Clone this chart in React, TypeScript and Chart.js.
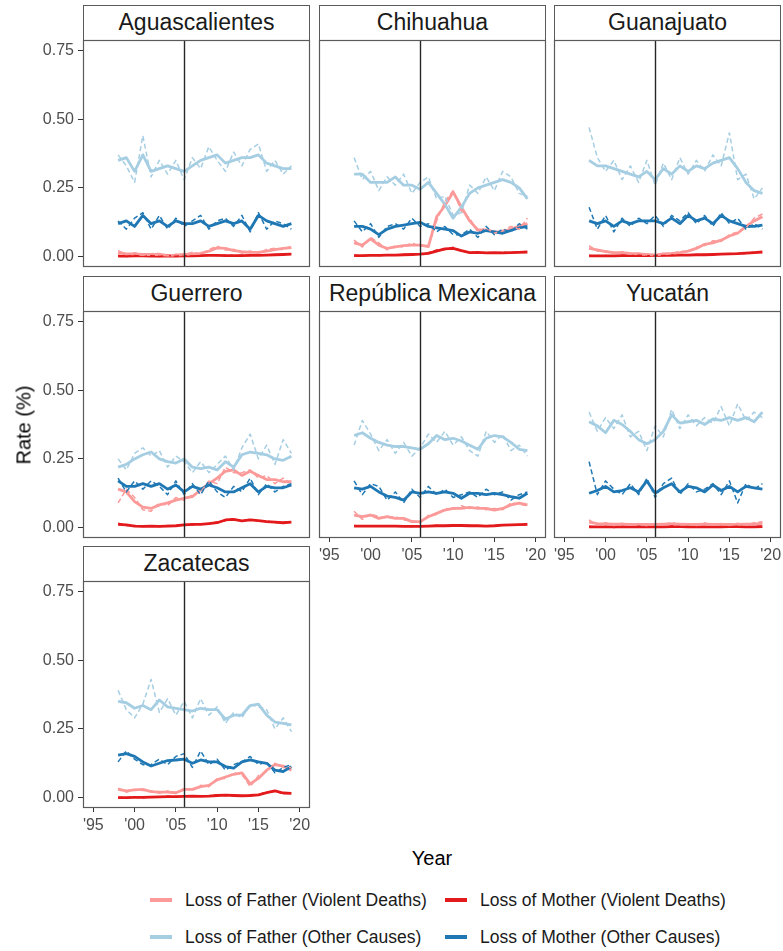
import React, { useEffect, useRef } from "react";
import { Chart, registerables } from "chart.js";

Chart.register(...registerables);

// ---------------- DATA ----------------
const years = [1998, 1999, 2000, 2001, 2002, 2003, 2004, 2005, 2006, 2007, 2008, 2009, 2010, 2011, 2012, 2013, 2014, 2015, 2016, 2017, 2018, 2019];
const xTickValues = [1995, 2000, 2005, 2010, 2015, 2020];
const xTickLabels = ["'95", "'00", "'05", "'10", "'15", "'20"];
const yTickValues = [0, 0.25, 0.5, 0.75];
const yTickLabels = ["0.00", "0.25", "0.50", "0.75"];
const policyYear = 2006;

const seriesNames = [
  "Loss of Father (Violent Deaths)",
  "Loss of Mother (Violent Deaths)",
  "Loss of Father (Other Causes)",
  "Loss of Mother (Other Causes)",
];

// Aguascalientes
const agsFV = [0.015, 0.01, 0.01, 0.008, 0.008, 0.008, 0.005, 0.006, 0.008, 0.01, 0.012, 0.02, 0.032, 0.03, 0.022, 0.018, 0.016, 0.016, 0.02, 0.026, 0.03, 0.033];
const agsFVRaw = [0.022, 0.008, 0.014, 0.005, 0.011, 0.012, 0.003, 0.009, 0.006, 0.016, 0.008, 0.026, 0.038, 0.024, 0.027, 0.013, 0.021, 0.012, 0.026, 0.031, 0.025, 0.039];
const agsMV = [0.002, 0.002, 0.003, 0.003, 0.002, 0.002, 0.003, 0.002, 0.003, 0.003, 0.004, 0.005, 0.005, 0.004, 0.004, 0.004, 0.005, 0.005, 0.006, 0.007, 0.008, 0.009];
const agsMVRaw = [0.004, 0.001, 0.004, 0.002, 0.003, 0.001, 0.004, 0.002, 0.004, 0.002, 0.005, 0.006, 0.004, 0.005, 0.003, 0.005, 0.004, 0.006, 0.007, 0.006, 0.009, 0.01];
const agsFO = [0.35, 0.36, 0.31, 0.37, 0.31, 0.32, 0.33, 0.32, 0.31, 0.33, 0.35, 0.36, 0.37, 0.34, 0.35, 0.36, 0.36, 0.37, 0.34, 0.33, 0.32, 0.32];
const agsFORaw = [0.37, 0.33, 0.27, 0.44, 0.29, 0.35, 0.3, 0.35, 0.28, 0.36, 0.32, 0.4, 0.35, 0.31, 0.38, 0.33, 0.39, 0.41, 0.31, 0.35, 0.3, 0.33];
const agsMO = [0.12, 0.13, 0.11, 0.15, 0.12, 0.13, 0.11, 0.13, 0.12, 0.12, 0.13, 0.11, 0.12, 0.13, 0.12, 0.13, 0.1, 0.15, 0.13, 0.12, 0.11, 0.12];
const agsMORaw = [0.13, 0.1, 0.14, 0.16, 0.1, 0.15, 0.1, 0.14, 0.11, 0.13, 0.15, 0.1, 0.13, 0.14, 0.11, 0.15, 0.09, 0.16, 0.1, 0.13, 0.12, 0.1];

// Chihuahua
const chhFV = [0.05, 0.042, 0.065, 0.042, 0.03, 0.036, 0.04, 0.042, 0.042, 0.037, 0.145, 0.185, 0.235, 0.18, 0.13, 0.097, 0.097, 0.09, 0.09, 0.1, 0.11, 0.12];
const chhFVRaw = [0.06, 0.035, 0.07, 0.05, 0.025, 0.04, 0.035, 0.05, 0.038, 0.04, 0.13, 0.2, 0.24, 0.165, 0.14, 0.09, 0.105, 0.085, 0.095, 0.11, 0.1, 0.14];
const chhMV = [0.004, 0.004, 0.005, 0.005, 0.006, 0.006, 0.007, 0.008, 0.009, 0.012, 0.02, 0.028, 0.03, 0.022, 0.015, 0.016, 0.014, 0.015, 0.014, 0.015, 0.016, 0.017];
const chhMVRaw = [0.005, 0.003, 0.006, 0.004, 0.007, 0.005, 0.008, 0.007, 0.01, 0.014, 0.024, 0.026, 0.034, 0.02, 0.017, 0.013, 0.016, 0.013, 0.016, 0.014, 0.018, 0.016];
const chhFO = [0.3, 0.3, 0.27, 0.27, 0.27, 0.29, 0.26, 0.26, 0.245, 0.27, 0.23, 0.19, 0.14, 0.18, 0.23, 0.25, 0.26, 0.27, 0.28, 0.27, 0.25, 0.21];
const chhFORaw = [0.36, 0.28, 0.31, 0.24, 0.29, 0.26, 0.3, 0.23, 0.27, 0.29, 0.21, 0.22, 0.15, 0.16, 0.26, 0.23, 0.29, 0.24, 0.31, 0.29, 0.23, 0.22];
const chhMO = [0.11, 0.11, 0.1, 0.08, 0.1, 0.11, 0.115, 0.12, 0.125, 0.11, 0.105, 0.1, 0.095, 0.075, 0.09, 0.085, 0.095, 0.09, 0.085, 0.095, 0.105, 0.11];
const chhMORaw = [0.13, 0.09, 0.12, 0.07, 0.11, 0.12, 0.1, 0.14, 0.11, 0.12, 0.09, 0.11, 0.08, 0.08, 0.1, 0.07, 0.11, 0.08, 0.1, 0.09, 0.12, 0.1];

// Guanajuato
const gtoFV = [0.03, 0.025, 0.018, 0.015, 0.015, 0.012, 0.01, 0.008, 0.006, 0.01, 0.012, 0.015, 0.02, 0.03, 0.045, 0.05, 0.06, 0.075, 0.085, 0.11, 0.13, 0.145];
const gtoFVRaw = [0.04, 0.02, 0.022, 0.012, 0.018, 0.009, 0.013, 0.006, 0.008, 0.012, 0.01, 0.02, 0.018, 0.035, 0.04, 0.058, 0.055, 0.08, 0.09, 0.105, 0.14, 0.155];
const gtoMV = [0.003, 0.003, 0.003, 0.003, 0.004, 0.004, 0.004, 0.004, 0.004, 0.005, 0.005, 0.006, 0.006, 0.007, 0.007, 0.008, 0.009, 0.01, 0.011, 0.013, 0.015, 0.017];
const gtoMVRaw = [0.004, 0.002, 0.004, 0.002, 0.005, 0.003, 0.005, 0.003, 0.005, 0.004, 0.006, 0.005, 0.007, 0.006, 0.008, 0.007, 0.01, 0.009, 0.012, 0.012, 0.016, 0.018];
const gtoFO = [0.35, 0.33, 0.33, 0.32, 0.31, 0.3, 0.29, 0.31, 0.28, 0.32, 0.3, 0.33, 0.31, 0.33, 0.32, 0.34, 0.35, 0.36, 0.32, 0.27, 0.24, 0.23];
const gtoFORaw = [0.47, 0.36, 0.31, 0.35, 0.28, 0.33, 0.27, 0.35, 0.26, 0.34, 0.28, 0.36, 0.3, 0.35, 0.31, 0.37, 0.33, 0.45, 0.28, 0.3, 0.21, 0.25];
const gtoMO = [0.13, 0.12, 0.13, 0.11, 0.13, 0.12, 0.13, 0.13, 0.13, 0.12, 0.14, 0.12, 0.15, 0.13, 0.14, 0.12, 0.15, 0.13, 0.12, 0.11, 0.11, 0.115];
const gtoMORaw = [0.18, 0.1, 0.15, 0.09, 0.14, 0.11, 0.14, 0.12, 0.15, 0.11, 0.15, 0.13, 0.16, 0.12, 0.15, 0.11, 0.16, 0.12, 0.14, 0.1, 0.12, 0.1];

// Guerrero
const groFV = [0.14, 0.13, 0.095, 0.075, 0.07, 0.083, 0.09, 0.1, 0.107, 0.113, 0.137, 0.16, 0.18, 0.205, 0.21, 0.19, 0.205, 0.19, 0.175, 0.175, 0.167, 0.167];
const groFVRaw = [0.09, 0.14, 0.11, 0.065, 0.06, 0.09, 0.08, 0.11, 0.1, 0.12, 0.13, 0.17, 0.16, 0.22, 0.2, 0.2, 0.21, 0.18, 0.19, 0.16, 0.18, 0.16];
const groMV = [0.012, 0.01, 0.006, 0.005, 0.006, 0.005, 0.006, 0.007, 0.01, 0.012, 0.012, 0.015, 0.018, 0.028, 0.03, 0.025, 0.028, 0.026, 0.022, 0.02, 0.018, 0.02];
const groMVRaw = [0.016, 0.008, 0.008, 0.004, 0.007, 0.004, 0.008, 0.006, 0.012, 0.01, 0.014, 0.013, 0.021, 0.025, 0.033, 0.023, 0.031, 0.024, 0.025, 0.018, 0.02, 0.019];
const groFO = [0.22, 0.23, 0.25, 0.265, 0.275, 0.25, 0.24, 0.235, 0.25, 0.22, 0.215, 0.22, 0.21, 0.24, 0.22, 0.265, 0.275, 0.27, 0.265, 0.25, 0.245, 0.26];
const groFORaw = [0.25, 0.21, 0.27, 0.29, 0.26, 0.28, 0.22, 0.26, 0.24, 0.2, 0.24, 0.2, 0.23, 0.26, 0.21, 0.29, 0.34, 0.25, 0.3, 0.23, 0.32, 0.27];
const groMO = [0.17, 0.15, 0.15, 0.16, 0.15, 0.16, 0.14, 0.155, 0.13, 0.15, 0.14, 0.155, 0.145, 0.13, 0.13, 0.145, 0.16, 0.13, 0.15, 0.145, 0.145, 0.155];
const groMORaw = [0.18, 0.13, 0.17, 0.14, 0.17, 0.15, 0.12, 0.17, 0.12, 0.16, 0.12, 0.17, 0.13, 0.11, 0.15, 0.13, 0.18, 0.12, 0.16, 0.13, 0.15, 0.16];

// República Mexicana
const mexFV = [0.046, 0.04, 0.046, 0.034, 0.04, 0.034, 0.034, 0.022, 0.022, 0.04, 0.052, 0.064, 0.07, 0.07, 0.074, 0.07, 0.07, 0.064, 0.07, 0.083, 0.089, 0.083];
const mexFVRaw = [0.06, 0.03, 0.05, 0.04, 0.035, 0.04, 0.028, 0.026, 0.016, 0.045, 0.048, 0.07, 0.065, 0.08, 0.07, 0.075, 0.065, 0.07, 0.065, 0.09, 0.085, 0.08];
const mexMV = [0.006, 0.006, 0.006, 0.006, 0.006, 0.006, 0.005, 0.005, 0.005, 0.006, 0.007, 0.007, 0.008, 0.008, 0.007, 0.007, 0.006, 0.007, 0.009, 0.01, 0.011, 0.012];
const mexMVRaw = [0.008, 0.005, 0.007, 0.005, 0.007, 0.005, 0.006, 0.004, 0.006, 0.005, 0.008, 0.006, 0.009, 0.007, 0.008, 0.006, 0.007, 0.006, 0.01, 0.009, 0.012, 0.011];
const mexFO = [0.335, 0.345, 0.325, 0.31, 0.3, 0.295, 0.295, 0.29, 0.285, 0.305, 0.335, 0.32, 0.325, 0.315, 0.3, 0.285, 0.325, 0.335, 0.33, 0.31, 0.285, 0.28];
const mexFORaw = [0.3, 0.39, 0.34, 0.28, 0.32, 0.27, 0.31, 0.26, 0.29, 0.34, 0.31, 0.35, 0.3, 0.33, 0.28, 0.26, 0.35, 0.31, 0.34, 0.28, 0.3, 0.26];
const mexMO = [0.145, 0.14, 0.15, 0.13, 0.115, 0.11, 0.1, 0.13, 0.125, 0.13, 0.125, 0.13, 0.125, 0.107, 0.125, 0.125, 0.12, 0.125, 0.12, 0.113, 0.107, 0.125];
const mexMORaw = [0.17, 0.12, 0.16, 0.15, 0.1, 0.13, 0.09, 0.14, 0.11, 0.15, 0.12, 0.14, 0.11, 0.12, 0.13, 0.11, 0.14, 0.12, 0.13, 0.1, 0.12, 0.13];

// Yucatán
const yucFV = [0.02, 0.015, 0.014, 0.013, 0.013, 0.012, 0.012, 0.012, 0.012, 0.013, 0.014, 0.013, 0.012, 0.012, 0.013, 0.012, 0.012, 0.012, 0.012, 0.013, 0.014, 0.016];
const yucFVRaw = [0.028, 0.01, 0.018, 0.008, 0.016, 0.009, 0.015, 0.007, 0.016, 0.01, 0.02, 0.009, 0.015, 0.008, 0.017, 0.009, 0.015, 0.008, 0.016, 0.01, 0.018, 0.022];
const yucMV = [0.003, 0.003, 0.003, 0.003, 0.003, 0.003, 0.003, 0.003, 0.003, 0.003, 0.004, 0.004, 0.003, 0.003, 0.003, 0.003, 0.003, 0.004, 0.004, 0.003, 0.003, 0.004];
const yucMVRaw = [0.005, 0.002, 0.004, 0.001, 0.004, 0.002, 0.005, 0.002, 0.004, 0.002, 0.006, 0.003, 0.004, 0.002, 0.004, 0.002, 0.004, 0.003, 0.005, 0.002, 0.004, 0.005];
const yucFO = [0.385, 0.37, 0.345, 0.39, 0.375, 0.35, 0.32, 0.305, 0.32, 0.35, 0.41, 0.38, 0.385, 0.39, 0.375, 0.395, 0.39, 0.4, 0.39, 0.4, 0.385, 0.42];
const yucFORaw = [0.42, 0.35, 0.4, 0.36, 0.41, 0.33, 0.35, 0.28, 0.37, 0.33, 0.43, 0.36, 0.41, 0.37, 0.4, 0.38, 0.44, 0.37, 0.45, 0.39, 0.42, 0.4];
const yucMO = [0.125, 0.135, 0.15, 0.13, 0.135, 0.145, 0.13, 0.17, 0.125, 0.145, 0.16, 0.13, 0.15, 0.145, 0.13, 0.155, 0.135, 0.15, 0.13, 0.15, 0.145, 0.14];
const yucMORaw = [0.24, 0.12, 0.17, 0.14, 0.12, 0.16, 0.12, 0.18, 0.11, 0.16, 0.18, 0.12, 0.16, 0.13, 0.14, 0.16, 0.12, 0.17, 0.09, 0.16, 0.14, 0.16];

// Zacatecas
const zacFV = [0.03, 0.025, 0.028, 0.03, 0.022, 0.02, 0.02, 0.018, 0.03, 0.03, 0.04, 0.045, 0.065, 0.075, 0.085, 0.09, 0.05, 0.07, 0.1, 0.12, 0.115, 0.1];
const zacFVRaw = [0.035, 0.02, 0.03, 0.026, 0.025, 0.016, 0.024, 0.015, 0.035, 0.025, 0.045, 0.04, 0.07, 0.07, 0.09, 0.085, 0.04, 0.08, 0.095, 0.125, 0.11, 0.11];
const zacMV = [0.0, 0.0, 0.001, 0.001, 0.002, 0.003, 0.004, 0.004, 0.005, 0.006, 0.005, 0.006, 0.008, 0.009, 0.008, 0.007, 0.008, 0.01, 0.018, 0.025, 0.017, 0.016];
const zacMVRaw = [0.001, 0.0, 0.002, 0.0, 0.003, 0.002, 0.005, 0.003, 0.006, 0.005, 0.006, 0.005, 0.01, 0.008, 0.009, 0.006, 0.009, 0.012, 0.02, 0.023, 0.015, 0.018];
const zacFO = [0.35, 0.345, 0.325, 0.335, 0.32, 0.355, 0.33, 0.325, 0.32, 0.315, 0.325, 0.32, 0.32, 0.285, 0.3, 0.3, 0.335, 0.34, 0.3, 0.275, 0.27, 0.265];
const zacFORaw = [0.39, 0.32, 0.29, 0.34, 0.43, 0.31, 0.36, 0.3, 0.35, 0.29, 0.36, 0.3, 0.33, 0.27, 0.31, 0.29, 0.34, 0.33, 0.32, 0.25, 0.29, 0.24];
const zacMO = [0.155, 0.16, 0.15, 0.13, 0.115, 0.125, 0.135, 0.137, 0.14, 0.125, 0.137, 0.13, 0.13, 0.113, 0.107, 0.13, 0.137, 0.13, 0.125, 0.1, 0.095, 0.113];
const zacMORaw = [0.13, 0.17, 0.14, 0.12, 0.12, 0.14, 0.12, 0.15, 0.16, 0.11, 0.17, 0.12, 0.14, 0.1, 0.12, 0.13, 0.15, 0.12, 0.13, 0.09, 0.11, 0.12];

// table of panels built from the arrays above: [smoothed, raw] per series, in seriesNames order
const panels = [
  { name: "Aguascalientes", series: [[agsFV, agsFVRaw], [agsMV, agsMVRaw], [agsFO, agsFORaw], [agsMO, agsMORaw]] },
  { name: "Chihuahua", series: [[chhFV, chhFVRaw], [chhMV, chhMVRaw], [chhFO, chhFORaw], [chhMO, chhMORaw]] },
  { name: "Guanajuato", series: [[gtoFV, gtoFVRaw], [gtoMV, gtoMVRaw], [gtoFO, gtoFORaw], [gtoMO, gtoMORaw]] },
  { name: "Guerrero", series: [[groFV, groFVRaw], [groMV, groMVRaw], [groFO, groFORaw], [groMO, groMORaw]] },
  { name: "República Mexicana", series: [[mexFV, mexFVRaw], [mexMV, mexMVRaw], [mexFO, mexFORaw], [mexMO, mexMORaw]] },
  { name: "Yucatán", series: [[yucFV, yucFVRaw], [yucMV, yucMVRaw], [yucFO, yucFORaw], [yucMO, yucMORaw]] },
  { name: "Zacatecas", series: [[zacFV, zacFVRaw], [zacMV, zacMVRaw], [zacFO, zacFORaw], [zacMO, zacMORaw]] },
];

// ---------------- STYLE / LAYOUT ----------------
const seriesColors = ["#fb9a99", "#e31a1c", "#a6cee3", "#1f78b4"];
const drawOrder = [2, 3, 0, 1];
const FONT = "'Liberation Sans', Arial, Helvetica, sans-serif";
const X_MIN = 1993.75;
const X_MAX = 2021.25;
const Y_MIN = -0.0375;
const Y_MAX = 0.7875;

const colLefts = [83, 319, 554];
const stripTops = [5, 276, 546];
const PANEL_W = 227;
const PANEL_H = 227;
const STRIP_H = 35;
const LEFT_M = 50;
const BOTTOM_M = 30;
const TOP_M = 14;
const RIGHT_M = 10;

const panelPlugin = {
  id: "panelDecor",
  afterDatasetsDraw(chart: any) {
    const { ctx, chartArea, scales } = chart;
    const x = Math.round(scales.x.getPixelForValue(policyYear)) + 0.5;
    ctx.save();
    ctx.strokeStyle = "#262626";
    ctx.lineWidth = 1.4;
    ctx.beginPath();
    ctx.moveTo(x, chartArea.top);
    ctx.lineTo(x, chartArea.bottom);
    ctx.stroke();
    ctx.strokeStyle = "#5a5a5a";
    ctx.lineWidth = 1.2;
    ctx.strokeRect(chartArea.left + 0.5, chartArea.top + 0.5, chartArea.right - chartArea.left - 1, chartArea.bottom - chartArea.top - 1);
    ctx.restore();
  },
};

function Panel({ idx, col, row, showX, showY }: { idx: number; col: number; row: number; showX: boolean; showY: boolean }) {
  const ref = useRef<HTMLCanvasElement | null>(null);
  const panel = panels[idx];
  const left = colLefts[col];
  const plotTop = stripTops[row] + STRIP_H;
  const cw = PANEL_W + LEFT_M + RIGHT_M;
  const ch = TOP_M + PANEL_H + BOTTOM_M;

  useEffect(() => {
    if (!ref.current) return;
    const datasets: any[] = [];
    drawOrder.forEach((si) => {
      datasets.push({
        label: seriesNames[si] + " raw",
        data: years.map((yr, i) => ({ x: yr, y: panel.series[si][1][i] })),
        borderColor: seriesColors[si],
        borderWidth: 1.5,
        borderDash: [5, 3],
        pointRadius: 0,
        fill: false,
      });
    });
    drawOrder.forEach((si) => {
      datasets.push({
        label: seriesNames[si],
        data: years.map((yr, i) => ({ x: yr, y: panel.series[si][0][i] })),
        borderColor: seriesColors[si],
        borderWidth: 2.8,
        pointRadius: 0,
        fill: false,
      });
    });
    const tickFont = { family: FONT, size: 16 };
    const chart = new Chart(ref.current, {
      type: "line",
      data: { datasets },
      options: {
        animation: false,
        responsive: false,
        devicePixelRatio: 1,
        events: [],
        layout: { padding: { top: TOP_M, right: RIGHT_M, left: 0, bottom: 0 } },
        plugins: { legend: { display: false }, tooltip: { enabled: false }, title: { display: false } },
        elements: { line: { tension: 0, borderJoinStyle: "round", borderCapStyle: "butt" }, point: { radius: 0 } },
        scales: {
          x: {
            type: "linear",
            min: X_MIN,
            max: X_MAX,
            afterBuildTicks: (s: any) => {
              s.ticks = xTickValues.map((v) => ({ value: v }));
            },
            afterFit: (s: any) => {
              s.height = BOTTOM_M;
            },
            ticks: {
              display: showX,
              autoSkip: false,
              maxRotation: 0,
              color: "#4d4d4d",
              font: tickFont,
              padding: 4,
              callback: (v: any) => {
                const k = xTickValues.indexOf(Number(v));
                return k >= 0 ? xTickLabels[k] : "";
              },
            },
            grid: { display: true, drawOnChartArea: false, drawTicks: showX, tickLength: 4, color: "#333333", lineWidth: 1 },
            border: { display: false },
          },
          y: {
            type: "linear",
            min: Y_MIN,
            max: Y_MAX,
            afterBuildTicks: (s: any) => {
              s.ticks = yTickValues.map((v) => ({ value: v }));
            },
            afterFit: (s: any) => {
              s.width = LEFT_M;
            },
            ticks: {
              display: showY,
              color: "#4d4d4d",
              font: tickFont,
              padding: 4,
              callback: (v: any) => {
                const k = yTickValues.indexOf(Number(v));
                return k >= 0 ? yTickLabels[k] : "";
              },
            },
            grid: { display: true, drawOnChartArea: false, drawTicks: showY, tickLength: 5, color: "#333333", lineWidth: 1 },
            border: { display: false },
          },
        },
      } as any,
      plugins: [panelPlugin],
    });
    return () => chart.destroy();
  }, []);

  return (
    <>
      <div
        style={{
          position: "absolute",
          left,
          top: stripTops[row],
          width: PANEL_W,
          height: STRIP_H + 1,
          boxSizing: "border-box",
          border: "1.2px solid #5a5a5a",
          background: "#ffffff",
          color: "#1a1a1a",
          fontFamily: FONT,
          fontSize: 23,
          lineHeight: STRIP_H - 2 + "px",
          textAlign: "center",
          whiteSpace: "nowrap",
        }}
      >
        {panel.name}
      </div>
      <canvas
        ref={ref}
        width={cw}
        height={ch}
        style={{ position: "absolute", left: left - LEFT_M, top: plotTop - TOP_M, width: cw, height: ch }}
      />
    </>
  );
}

const panelGrid = [
  { idx: 0, col: 0, row: 0, showX: false, showY: true },
  { idx: 1, col: 1, row: 0, showX: false, showY: false },
  { idx: 2, col: 2, row: 0, showX: false, showY: false },
  { idx: 3, col: 0, row: 1, showX: false, showY: true },
  { idx: 4, col: 1, row: 1, showX: true, showY: false },
  { idx: 5, col: 2, row: 1, showX: true, showY: false },
  { idx: 6, col: 0, row: 2, showX: true, showY: true },
];

const legendItems = [
  { si: 0, left: 150, top: 900 },
  { si: 1, left: 445, top: 900 },
  { si: 2, left: 150, top: 937 },
  { si: 3, left: 445, top: 937 },
];

export default function App() {
  return (
    <div style={{ position: "absolute", left: 0, top: 0, width: 783, height: 951, background: "#ffffff", overflow: "hidden" }}>
      {panelGrid.map((p) => (
        <Panel key={p.idx} {...p} />
      ))}
      <div
        style={{
          position: "absolute",
          left: 24,
          top: 425,
          transform: "translate(-50%, -50%) rotate(-90deg)",
          fontFamily: FONT,
          fontSize: 20,
          color: "#000000",
          whiteSpace: "nowrap",
        }}
      >
        Rate (%)
      </div>
      <div
        style={{
          position: "absolute",
          left: 432,
          top: 858,
          transform: "translate(-50%, -50%)",
          fontFamily: FONT,
          fontSize: 20,
          color: "#000000",
          whiteSpace: "nowrap",
        }}
      >
        Year
      </div>
      {legendItems.map((it) => (
        <div key={it.si} style={{ position: "absolute", left: it.left, top: it.top - 12, height: 24, display: "flex", alignItems: "center" }}>
          <div style={{ width: 22, height: 3.5, background: seriesColors[it.si] }} />
          <div style={{ marginLeft: 13, fontFamily: FONT, fontSize: 17.5, color: "#1a1a1a", whiteSpace: "nowrap" }}>{seriesNames[it.si]}</div>
        </div>
      ))}
    </div>
  );
}
